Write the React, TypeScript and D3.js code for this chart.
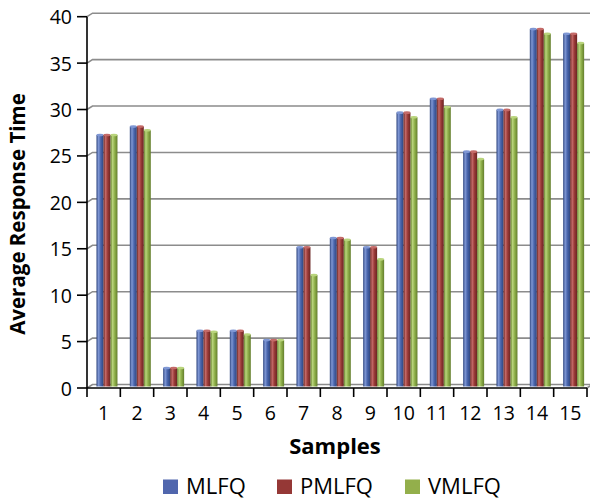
import React from "react";
import * as d3 from "d3";

const samples = ["1", "2", "3", "4", "5", "6", "7", "8", "9", "10", "11", "12", "13", "14", "15"];
const mlfq = [27.1, 28, 2, 6, 6, 5, 15, 16, 15, 29.5, 31, 25.3, 29.8, 38.5, 38];
const pmlfq = [27.1, 28, 2, 6, 6, 5, 15, 16, 15, 29.5, 31, 25.3, 29.8, 38.5, 38];
const vmlfq = [27.1, 27.6, 2, 5.9, 5.6, 5, 12, 15.8, 13.7, 29, 30.1, 24.5, 29, 38, 37];
const yTicks = [0, 5, 10, 15, 20, 25, 30, 35, 40];

const seriesNames = ["MLFQ", "PMLFQ", "VMLFQ"];
const seriesData = [mlfq, pmlfq, vmlfq];
const colors = [
  { dark: "#2f4680", main: "#4a66ad", light: "#7f97d4" },
  { dark: "#6a2422", main: "#9a3a38", light: "#c46a68" },
  { dark: "#637d2c", main: "#8fb04a", light: "#b9d47c" },
];
const legendColors = ["#5066ad", "#953836", "#93af4b"];

const width = 590;
const height = 500;
const margin = { top: 16.7, left: 87, right: 3, bottom: 112 };
// 3d wall depth
const depth = { dx: 5.5, dy: -3.5 };
const font = "'Open Sans', sans-serif";

const x = d3.scaleBand().domain(samples).range([margin.left, 587]).padding(0);
const y = d3.scaleLinear().domain([0, 40]).range([388, margin.top]);
const groupW = 21;
const xs = d3.scaleBand().domain(seriesNames).range([0, groupW]).padding(0);

export default function App() {
  const bw = xs.bandwidth();
  return (
    <svg width={width} height={height} style={{ display: "block", position: "absolute", left: 0, top: 0 }}>
      <defs>
        {colors.map((c, i) => (
          <linearGradient key={i} id={`g${i}`} x1="0" x2="1" y1="0" y2="0">
            <stop offset="0" stopColor={c.dark} />
            <stop offset="0.3" stopColor={c.light} />
            <stop offset="0.6" stopColor={c.main} />
            <stop offset="1" stopColor={c.dark} />
          </linearGradient>
        ))}
      </defs>
      <rect width={width} height={height} fill="#fff" />

      {/* back wall gridlines */}
      <g fill="none" stroke="#8c8c8c" strokeWidth={1.6}>
        {yTicks.map((t) => (
          <polyline
            key={t}
            points={`${margin.left},${y(t)} ${margin.left + depth.dx},${y(t) + depth.dy} ${592},${y(t) + depth.dy}`}
          />
        ))}
        <line x1={587} y1={y(0)} x2={592} y2={y(0) + depth.dy} />
      </g>

      {/* bars */}
      {samples.map((s, i) => (
        <g key={s} transform={`translate(${x(s)! + (x.bandwidth() - groupW) / 2 + 3.3},${-1.5})`}>
          {seriesData.map((d, k) => {
            const bx = xs(seriesNames[k])!;
            const top = y(d[i]);
            return (
              <g key={k}>
                <rect x={bx} y={top} width={bw} height={y(0) - top} fill={`url(#g${k})`} />
                <ellipse cx={bx + bw / 2} cy={top} rx={bw / 2} ry={1.3} fill={colors[k].light} />
              </g>
            );
          })}
        </g>
      ))}

      {/* axes */}
      <g stroke="#000" strokeWidth={1.6}>
        <line x1={margin.left} y1={y(40)} x2={margin.left} y2={y(0)} />
        {yTicks.map((t) => (
          <line key={t} x1={77} x2={margin.left} y1={y(t)} y2={y(t)} />
        ))}
        <line x1={margin.left} x2={587} y1={y(0)} y2={y(0)} />
        {samples.map((s) => (
          <line key={s} x1={x(s)} x2={x(s)} y1={y(0)} y2={397} />
        ))}
        <line x1={587} x2={587} y1={y(0)} y2={397} />
      </g>
      <g fontFamily={font} fontSize={19.5} fill="#000">
        {yTicks.map((t) => (
          <text key={t} x={72} y={y(t)} textAnchor="end" dominantBaseline="central">
            {t}
          </text>
        ))}
        {samples.map((s) => (
          <text key={s} x={x(s)! + x.bandwidth() / 2} y={419.5} textAnchor="middle">
            {s}
          </text>
        ))}
      </g>

      <text
        transform={`translate(25,${214}) rotate(-90)`}
        textAnchor="middle"
        fontFamily={font}
        fontWeight="bold"
        fontSize={20.5}
      >
        Average Response Time
      </text>
      <text x={335} y={454} textAnchor="middle" fontFamily={font} fontWeight="bold" fontSize={22}>
        Samples
      </text>

      {/* legend */}
      <g fontFamily={font} fontSize={22}>
        {seriesNames.map((n, k) => {
          const lx = [163, 277, 405][k];
          return (
            <g key={n}>
              <rect x={lx} y={479.5} width={15} height={14.5} fill={legendColors[k]} />
              <text x={lx + 23} y={494}>
                {n}
              </text>
            </g>
          );
        })}
      </g>
    </svg>
  );
}
